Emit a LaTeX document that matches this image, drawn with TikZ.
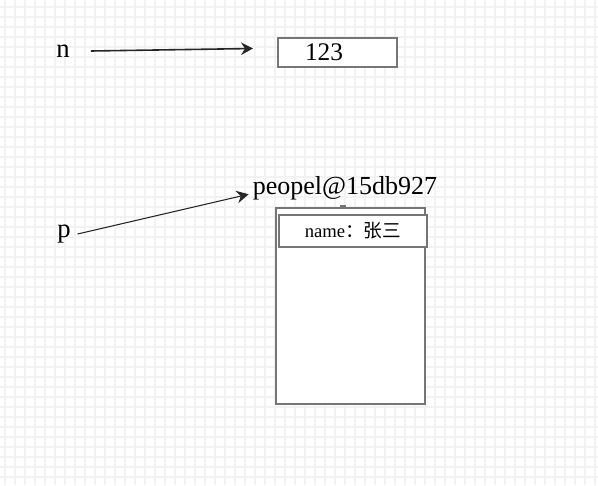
\documentclass[tikz,border=0pt]{standalone}
\usepackage{fontspec}
\setmainfont{Liberation Serif}
\newfontfamily\cjk{Noto Sans CJK SC}
\usetikzlibrary{arrows.meta}
\definecolor{gridgray}{HTML}{F2F2F2}
\definecolor{boxgray}{HTML}{767676}

\begin{document}
\begin{tikzpicture}[x=0.75pt, y=-0.75pt,
    varlabel/.style={inner sep=0pt, font=\fontsize{20}{20}\selectfont},
    membox/.style={draw=boxgray, line width=1.5pt, fill=white, inner sep=0pt},
    ptr/.style={-{Stealth[length=9pt, width=9.5pt, inset=3pt]}, draw=black!85}]
    \useasboundingbox (0,0) rectangle (598,485);
    \foreach \gx in {5,15,...,595}
        \draw[gridgray, line width=1pt] (\gx,0) -- (\gx,485);
    \foreach \gy in {7,17,...,477}
        \draw[gridgray, line width=1pt] (0,\gy) -- (598,\gy);
    \node[varlabel] (n) at (63,51) {n};
    \node[membox, inner xsep=20.25pt, text width=48.75pt, align=left, minimum height=21.75pt,
        font=\fontsize{19}{19}\selectfont] (val) at (337.5,52.5) {123};
    \node[varlabel] (p) at (64,234) {p};
    \node[varlabel, font=\fontsize{19.5}{19.5}\selectfont] (addr) at (345,188) {peopel@15db927};
    \node[membox, minimum width=111.75pt, minimum height=147pt] (obj) at (350.5,306) {};
    \node[fill=boxgray, inner sep=0pt, minimum width=4.5pt, minimum height=3pt] (grip) at ([xshift=-6pt]obj.north) {};
    \node[membox, minimum width=111pt, minimum height=24pt,
        font=\fontsize{14}{14}\selectfont] (name) at (353,231) {name{\cjk ：张三}};
    \draw[ptr, line width=1.2pt] ([xshift=15.75pt]n.east) -- ([xshift=-18pt, yshift=3pt]val.west);
    \draw[ptr, line width=0.8pt] ([xshift=5pt]p.east) -- ([xshift=-3pt]addr.base west);
\end{tikzpicture}
\end{document}
